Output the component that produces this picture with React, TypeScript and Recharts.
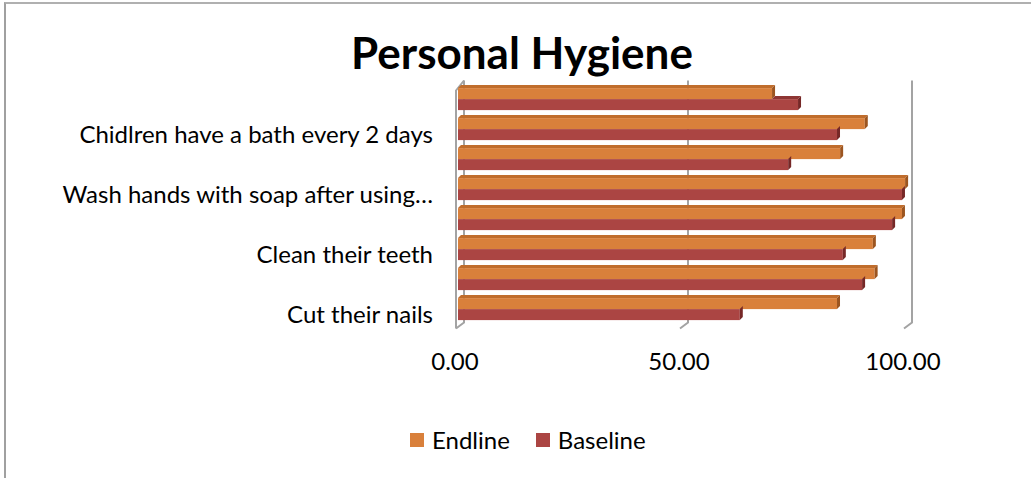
import { Bar, BarChart, CartesianGrid, XAxis, YAxis } from 'recharts';

// rows listed top to bottom, as in the picture; blank labels are rows Excel skipped
const categories = [
  '',
  'Chidlren have a bath every 2 days',
  '',
  'Wash hands with soap after using…',
  '',
  'Clean their teeth',
  '',
  'Cut their nails'
];
const endline = [70.1, 90.8, 85.3, 99.8, 99.1, 92.6, 93.0, 84.6];
const baseline = [75.9, 84.6, 73.7, 99.1, 96.9, 85.9, 90.2, 62.9];
const xTicks = [0, 50, 100];

const data = categories.map((name, i) => ({
  row: i,
  name,
  endline: endline[i],
  baseline: baseline[i]
}));

const colors = {
  endline: { front: '#d9803b', top: '#c06d2c', side: '#9c5520' },
  baseline: { front: '#ab4543', top: '#8e3634', side: '#762827' }
};

const FONT = 'Lato, "Liberation Sans", sans-serif';
const DEPTH = 3;

const Bar3D = (props: any) => {
  const { x, y, width, height, payload, dataKey } = props;
  if (!width || width <= 0) return null;
  const c = colors[dataKey as 'endline' | 'baseline'];
  const d = DEPTH;
  // baseline's top face hides behind the endline bar above it
  let topStart = x;
  if (dataKey === 'baseline') {
    topStart = x + (width * payload.endline) / payload.baseline;
  }
  const r = x + width;
  return (
    <g>
      {topStart < r && (
        <polygon
          points={`${topStart},${y} ${topStart + d},${y - d} ${r + d},${y - d} ${r},${y}`}
          fill={c.top}
        />
      )}
      <rect x={x} y={y} width={width} height={height} fill={c.front} />
      <polygon points={`${r},${y} ${r + d},${y - d} ${r + d},${y + height - d} ${r},${y + height}`} fill={c.side} />
    </g>
  );
};

const GridLine = (props: any) => {
  const { x1, y1, y2, index } = props;
  const back = x1 + 6;
  const front = x1 - 2;
  return (
    <g>
      <path
        d={`M${back},${y1 - 4} L${back},${y2 - 2} L${front},${y2 + 4}`}
        stroke="#a3a3a3"
        strokeWidth={2}
        fill="none"
      />
      {index === 0 && (
        <path
          d={`M${back},${y1 - 4} L${front},${y1 + 6} L${front},${y2 + 4}`}
          stroke="#a3a3a3"
          strokeWidth={2}
          fill="none"
        />
      )}
    </g>
  );
};

const CategoryTick = ({ x, y, payload }: any) => (
  <text x={x} y={y + 13} textAnchor="end" fontFamily={FONT} fontSize={24} fill="#000">
    {categories[payload.value]}
  </text>
);

const ValueTick = ({ x, y, payload }: any) => (
  <text x={x - 3} y={y + 45} textAnchor="middle" fontFamily={FONT} fontSize={24} fill="#000">
    {payload.value.toFixed(2)}
  </text>
);

const legendItems = [
  { label: 'Endline', color: colors.endline.front },
  { label: 'Baseline', color: colors.baseline.front }
];

export default function App() {
  return (
    <div
      style={{
        position: 'absolute',
        left: 0,
        top: 0,
        width: 1031,
        height: 478,
        overflow: 'hidden',
        background: '#fff',
        fontFamily: FONT
      }}
    >
      <div
        style={{
          position: 'absolute',
          left: 4,
          top: 2,
          width: 1100,
          height: 600,
          borderLeft: '2px solid #a0a0a0',
          borderTop: '2px solid #b0b0b0'
        }}
      />
      <div
        style={{
          position: 'absolute',
          left: 0,
          width: 1044,
          top: 26,
          textAlign: 'center',
          fontSize: 44,
          fontWeight: 700,
          lineHeight: '52px',
          color: '#000'
        }}
      >
        Personal Hygiene
      </div>
      <BarChart
        width={1031}
        height={478}
        layout="vertical"
        data={data}
        margin={{ top: 84.5, right: 125, bottom: 113.5, left: 0 }}
        barCategoryGap="12%"
        barGap={0}
        style={{ position: 'absolute', left: 0, top: 0 }}
      >
        <CartesianGrid horizontal={false} vertical={GridLine} />
        <XAxis
          type="number"
          domain={[0, 100]}
          ticks={xTicks}
          axisLine={false}
          tickLine={false}
          tickSize={0}
          tickMargin={0}
          height={40}
          tick={ValueTick}
        />
        <YAxis
          type="category"
          dataKey="row"
          width={458}
          axisLine={false}
          tickLine={false}
          tickSize={0}
          tickMargin={25}
          interval={0}
          tick={CategoryTick}
        />
        <Bar dataKey="endline" name="Endline" shape={Bar3D} isAnimationActive={false} />
        <Bar dataKey="baseline" name="Baseline" shape={Bar3D} isAnimationActive={false} />
      </BarChart>
      <div
        style={{
          position: 'absolute',
          left: 410,
          top: 425,
          display: 'flex',
          alignItems: 'center',
          fontSize: 24,
          lineHeight: '30px'
        }}
      >
        {legendItems.map((item, i) => (
          <div key={item.label} style={{ display: 'flex', alignItems: 'center', marginLeft: i ? 26 : 0 }}>
            <span style={{ width: 14, height: 14, background: item.color, marginRight: 8, display: 'inline-block' }} />
            <span>{item.label}</span>
          </div>
        ))}
      </div>
    </div>
  );
}
